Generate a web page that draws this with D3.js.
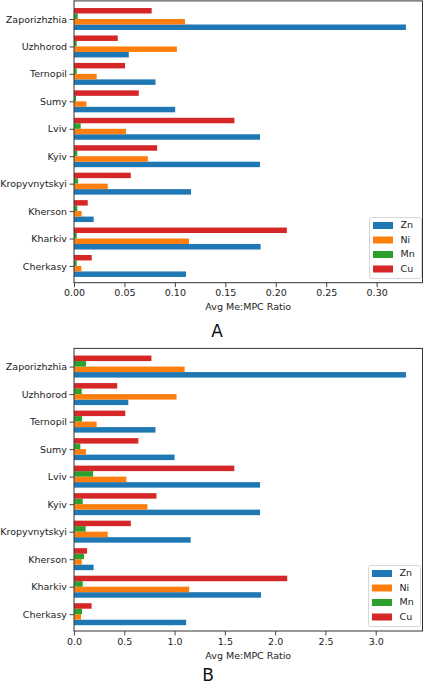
<!DOCTYPE html>
<html>
<head>
<meta charset="utf-8">
<script src="https://cdn.jsdelivr.net/npm/d3@7"></script>
<style>
  html, body { margin: 0; padding: 0; background: #fff; }
  svg { display: block; }
  text { font-family: "DejaVu Sans", sans-serif; }
</style>
</head>
<body>
<script>
// ---- data (bottom to top, as drawn) ----
const cities = ["Cherkasy", "Kharkiv", "Kherson", "Kropyvnytskyi", "Kyiv", "Lviv", "Sumy", "Ternopil", "Uzhhorod", "Zaporizhzhia"];
const metals = ["Zn", "Ni", "Mn", "Cu"];
const metalColors = ["#1f77b4", "#ff7f0e", "#2ca02c", "#d62728"];

// Panel A
const znA = [0.111, 0.185, 0.0195, 0.116, 0.1844, 0.1844, 0.1003, 0.0808, 0.0543, 0.329];
const niA = [0.0073, 0.114, 0.0076, 0.0335, 0.0732, 0.0516, 0.0123, 0.0225, 0.102, 0.110];
const mnA = [0.0027, 0.0027, 0.0033, 0.004, 0.0033, 0.0066, 0.002, 0.0027, 0.0027, 0.0037];
const cuA = [0.0176, 0.211, 0.0136, 0.0563, 0.0824, 0.159, 0.0642, 0.0506, 0.0434, 0.077];
const ticksA = [0, 0.05, 0.10, 0.15, 0.20, 0.25, 0.30];

// Panel B
const znB = [1.115, 1.86, 0.195, 1.16, 1.85, 1.85, 1.00, 0.81, 0.54, 3.30];
const niB = [0.07, 1.145, 0.077, 0.335, 0.73, 0.52, 0.12, 0.225, 1.02, 1.10];
const mnB = [0.08, 0.087, 0.10, 0.116, 0.087, 0.19, 0.063, 0.08, 0.077, 0.12];
const cuB = [0.175, 2.12, 0.13, 0.565, 0.82, 1.594, 0.64, 0.51, 0.43, 0.77];
const ticksB = [0, 0.5, 1.0, 1.5, 2.0, 2.5, 3.0];

const xLabel = "Avg Me:MPC Ratio";

const W = 424, H = 685;
const svg = d3.select("body").append("svg").attr("width", W).attr("height", H);

function panel(opt) {
  const series = opt.series;
  const maxV = d3.max(series.flat());
  const x = d3.scaleLinear().domain([0, maxV * 1.05]).range([74, 422.5]);
  const y = d3.scaleLinear().domain([-0.61, 9.66]).range([opt.bottom, opt.top]);
  const g = svg.append("g");
  const offsets = [-0.3, -0.1, 0.1, 0.3];
  const bh = 0.2;

  series.forEach((vals, si) => {
    g.append("g").selectAll("rect").data(vals).join("rect")
      .attr("x", x(0))
      .attr("y", (d, i) => y(i + offsets[si] + bh / 2))
      .attr("width", d => x(d) - x(0))
      .attr("height", (d, i) => y(i + offsets[si] - bh / 2) - y(i + offsets[si] + bh / 2))
      .attr("fill", metalColors[si]);
  });

  // frame
  g.append("rect")
    .attr("x", x.range()[0]).attr("y", opt.top)
    .attr("width", x.range()[1] - x.range()[0])
    .attr("height", opt.bottom - opt.top)
    .attr("fill", "none").attr("stroke", "#333").attr("stroke-width", 1);

  // x axis
  const xa = g.append("g").attr("transform", `translate(0,${opt.bottom})`)
    .call(d3.axisBottom(x).tickValues(opt.ticks).tickFormat(d3.format(opt.fmt)).tickSize(4.5).tickPadding(2.5));
  xa.select(".domain").remove();
  xa.selectAll("line").attr("stroke", "#333").attr("stroke-width", 0.9);
  xa.selectAll("text").attr("font-size", "9.5px").attr("fill", "#222")
    .attr("font-family", "DejaVu Sans, sans-serif");

  // y axis
  const ya = g.append("g").attr("transform", `translate(${x.range()[0]},0)`)
    .call(d3.axisLeft(y).tickValues(d3.range(cities.length)).tickFormat(i => cities[i]).tickSize(4.5).tickPadding(2.5));
  ya.select(".domain").remove();
  ya.selectAll("line").attr("stroke", "#333").attr("stroke-width", 0.9);
  ya.selectAll("text").attr("font-size", "9.5px").attr("fill", "#222")
    .attr("font-family", "DejaVu Sans, sans-serif");

  // x label
  g.append("text").attr("x", (x.range()[0] + x.range()[1]) / 2).attr("y", opt.bottom + 25)
    .attr("text-anchor", "middle").attr("dominant-baseline", "middle")
    .attr("font-size", "9.5px").attr("fill", "#222").text(xLabel);

  // legend
  const lg = g.append("g").attr("transform", `translate(${opt.legX},${opt.legY})`);
  lg.append("rect").attr("x", 0).attr("y", 0).attr("width", 52).attr("height", 61)
    .attr("rx", 2).attr("fill", "#fff").attr("fill-opacity", 0.8)
    .attr("stroke", "#ccc").attr("stroke-width", 0.8);
  metals.forEach((m, i) => {
    const cy = 8 + i * 14.5;
    lg.append("rect").attr("x", 3.5).attr("y", cy - 3.5).attr("width", 20).attr("height", 7)
      .attr("fill", metalColors[i]);
    lg.append("text").attr("x", 31).attr("y", cy).attr("dominant-baseline", "middle")
      .attr("font-size", "9.5px").attr("fill", "#222").text(m);
  });

  // panel letter
  svg.append("text").attr("x", opt.letterX).attr("y", opt.letterY)
    .attr("text-anchor", "middle")
    .attr("font-family", "Liberation Serif, 'DejaVu Serif', serif")
    .attr("font-size", "17px").attr("fill", "#111").text(opt.letter);
}

panel({ series: [znA, niA, mnA, cuA], top: 0.9, bottom: 282.7, ticks: ticksA, fmt: ".2f",
        legX: 369.5, legY: 217.5, letter: "A", letterX: 217, letterY: 337 });
panel({ series: [znB, niB, mnB, cuB], top: 348.4, bottom: 631, ticks: ticksB, fmt: ".1f",
        legX: 368.5, legY: 565.5, letter: "B", letterX: 208, letterY: 681 });
</script>
</body>
</html>
